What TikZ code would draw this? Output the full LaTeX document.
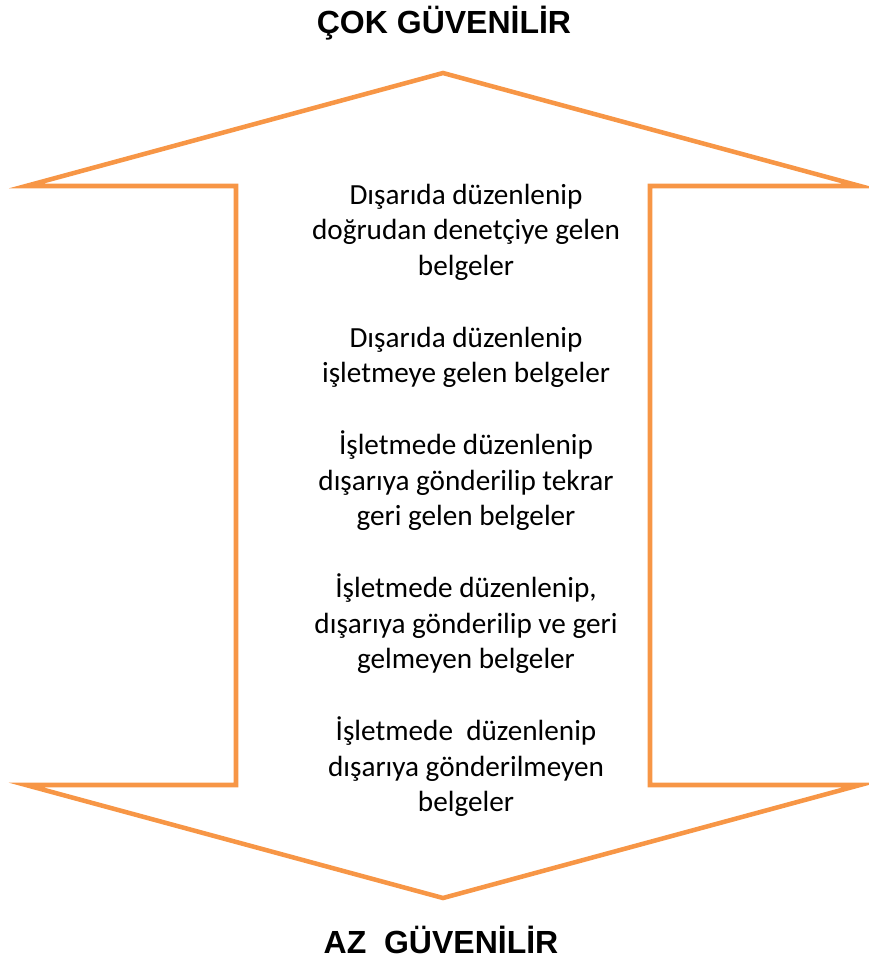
\documentclass[tikz,border=0pt]{standalone}
\usepackage{fontspec}
\setmainfont{Carlito}
\newfontfamily\headfont{Liberation Sans}
\definecolor{arroworange}{HTML}{F79646}
\begin{document}
\begin{tikzpicture}[x=0.75pt,y=-0.75pt,
  outline/.style={draw=arroworange,line width=3.4pt,line join=miter,miter limit=12},
  heading/.style={font=\headfont\bfseries\fontsize{24}{28}\selectfont,anchor=base,inner sep=0pt},
  item/.style={font=\fontsize{21.9}{26.8}\selectfont,anchor=base,inner sep=0pt}]
\useasboundingbox (0,0) rectangle (868,967);
% double-headed arrow outline
\draw[outline] (443,73) -- (860,186) -- (650,186) -- (650,785) -- (860,785)
  -- (443,898) -- (26,785) -- (236,785) -- (236,186) -- (26,186) -- cycle;
% headings
\node[heading] (top) at (444,33) {ÇOK GÜVENİLİR};
\node[heading] (bottom) at (441,953) {AZ\ \ GÜVENİLİR};
% ranked document types, one line per node
\node[item] (a1) at (466,204.0) {Dışarıda düzenlenip};
\node[item] (a2) at (466,239.8) {doğrudan denetçiye gelen};
\node[item] (a3) at (466,275.5) {belgeler};
\node[item] (b1) at (466,347.0) {Dışarıda düzenlenip};
\node[item] (b2) at (466,382.8) {işletmeye gelen belgeler};
\node[item] (c1) at (466,454.3) {İşletmede düzenlenip};
\node[item] (c2) at (466,490.1) {dışarıya gönderilip tekrar};
\node[item] (c3) at (466,525.8) {geri gelen belgeler};
\node[item] (d1) at (466,597.3) {İşletmede düzenlenip,};
\node[item] (d2) at (466,633.1) {dışarıya gönderilip ve geri};
\node[item] (d3) at (466,668.9) {gelmeyen belgeler};
\node[item] (e1) at (466,740.4) {İşletmede\ \ düzenlenip};
\node[item] (e2) at (466,776.2) {dışarıya gönderilmeyen};
\node[item] (e3) at (466,811.9) {belgeler};
\end{tikzpicture}
\end{document}
